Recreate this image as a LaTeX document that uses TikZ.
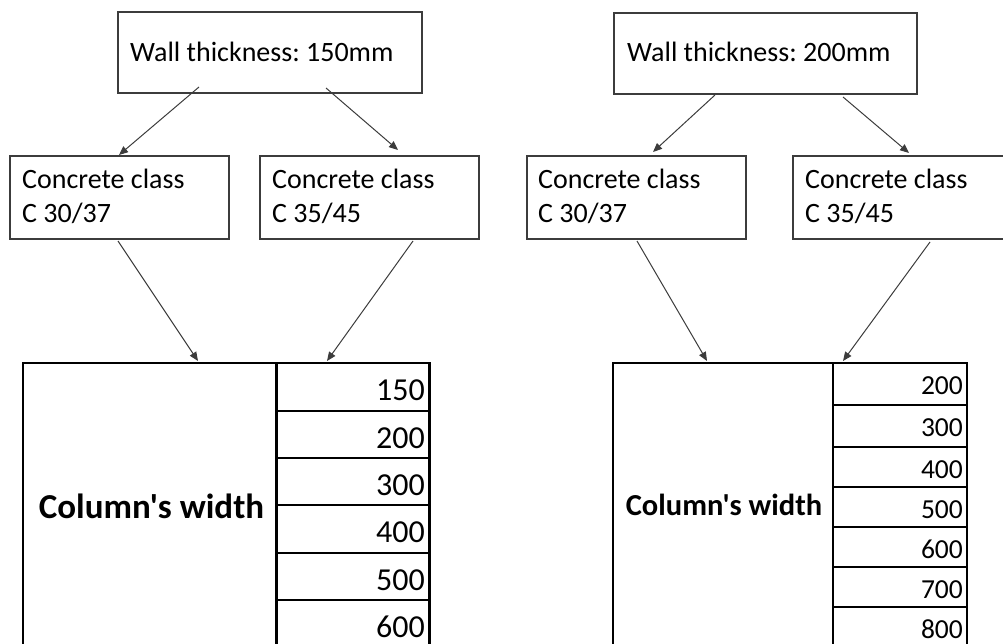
\documentclass[tikz,border=0pt]{standalone}
\usepackage{fontspec}
\setmainfont{Carlito}[Ligatures=TeXOff]
\frenchspacing
\usetikzlibrary{arrows.meta,calc}
\definecolor{boxgray}{HTML}{3C3C3C}
\begin{document}
\begin{tikzpicture}[x=1pt,y=-1pt,
  frame/.style={draw=boxgray,line width=1.2pt,anchor=north west,inner sep=0pt,outer sep=0pt},
  cell/.style={draw=black,line width=1.4pt,anchor=north west,inner sep=0pt,outer sep=0pt},
  txt/.style={anchor=base west,inner sep=0pt,font=\fontsize{28}{34}\selectfont},
  numL/.style={anchor=base east,inner sep=0pt,font=\fontsize{32}{38}\selectfont},
  numR/.style={anchor=base east,inner sep=0pt,font=\fontsize{27.5}{33}\selectfont},
  arrowline/.style={draw=boxgray,line width=1pt,-{Triangle[length=9pt,width=7.5pt]}},
  thickrule/.style={draw=black,line width=3pt}
]
\useasboundingbox (0,0) rectangle (1003,644);

% ---------- top boxes ----------
\node[frame,minimum width=304pt,minimum height=81pt] (w1) at (118,12) {};
\node[txt] (w1t) at (130,62) {Wall thickness: 150mm};
\node[frame,minimum width=303pt,minimum height=81pt] (w2) at (614,13) {};
\node[txt] (w2t) at (627,62) {Wall thickness: 200mm};

% ---------- concrete boxes ----------
\node[frame,minimum width=219pt,minimum height=83pt] (cl1) at (10,156) {};
\node[txt] (cl1a) at (22,189) {Concrete class};
\node[txt] (cl1b) at (22,223) {C 30/37};
\node[frame,minimum width=219pt,minimum height=83pt] (cl2) at (260,156) {};
\node[txt] (cl2a) at (272,189) {Concrete class};
\node[txt] (cl2b) at (272,223) {C 35/45};
\node[frame,minimum width=219pt,minimum height=83pt] (cr1) at (527,156) {};
\node[txt] (cr1a) at (538,189) {Concrete class};
\node[txt] (cr1b) at (538,223) {C 30/37};
\node[frame,minimum width=240pt,minimum height=83pt] (cr2) at (793,156) {};
\node[txt] (cr2a) at (805,189) {Concrete class};
\node[txt] (cr2b) at (805,223) {C 35/45};

% ---------- left table ----------
\node[cell,minimum width=253pt,minimum height=340pt] (tl) at (23,363) {};
\node[anchor=base,inner sep=0pt,font=\fontsize{35}{40}\selectfont\bfseries] (tlt) at (151.5,518) {Column's width};
\foreach \i/\t/\h/\v in {1/363/48/150,2/411/47/200,3/458/47/300,4/505/48/400,5/553/47/500,6/600/48/600}{
  \node[cell,minimum width=153pt,minimum height=\h pt] (tl\i) at (276,\t) {};
  \node[numL] (tln\i) at (425,\t+37) {\v};
}
\draw[thickrule] (tl.north east) -- (tl.south east);
\draw[thickrule] ($(tl1.north east)+(0,-0.7)$) -- ($(tl6.south east)+(0,20)$);

% ---------- right table ----------
\node[cell,minimum width=220pt,minimum height=340pt] (tr) at (613,363) {};
\node[anchor=base,inner sep=0pt,font=\fontsize{30.5}{36}\selectfont\bfseries] (trt) at (724,515) {Column's width};
\foreach \i/\t/\h/\v in {1/363/42/200,2/405/42/300,3/447/40/400,4/487/40/500,5/527/40/600,6/567/40/700,7/607/40/800}{
  \node[cell,minimum width=134pt,minimum height=\h pt] (tr\i) at (833,\t) {};
  \node[numR] (trn\i) at (963,\t+31) {\v};
}
\draw[thickrule,line width=2.6pt] (tr.north east) -- (tr.south east);
\draw[thickrule,line width=2.6pt] ($(tr1.north east)+(0,-0.7)$) -- ($(tr7.south east)+(0,20)$);

% ---------- connectors ----------
\coordinate (a1s) at (199,87);  \coordinate (a1e) at (119,155);
\coordinate (a2s) at (326,88);  \coordinate (a2e) at (398,150);
\coordinate (a3s) at (715,95);  \coordinate (a3e) at (653,152);
\coordinate (a4s) at (843,97);  \coordinate (a4e) at (909,153);
\draw[arrowline] (a1s) -- (a1e);
\draw[arrowline] (a2s) -- (a2e);
\draw[arrowline] (a3s) -- (a3e);
\draw[arrowline] (a4s) -- (a4e);

\coordinate (b1s) at (118,241); \coordinate (b1e) at (198,361);
\coordinate (b2s) at (413,241); \coordinate (b2e) at (327,361);
\coordinate (b3s) at (637,241); \coordinate (b3e) at (707,361);
\coordinate (b4s) at (930,242); \coordinate (b4e) at (843,361);
\draw[arrowline] (b1s) -- (b1e);
\draw[arrowline] (b2s) -- (b2e);
\draw[arrowline] (b3s) -- (b3e);
\draw[arrowline] (b4s) -- (b4e);
\end{tikzpicture}
\end{document}
